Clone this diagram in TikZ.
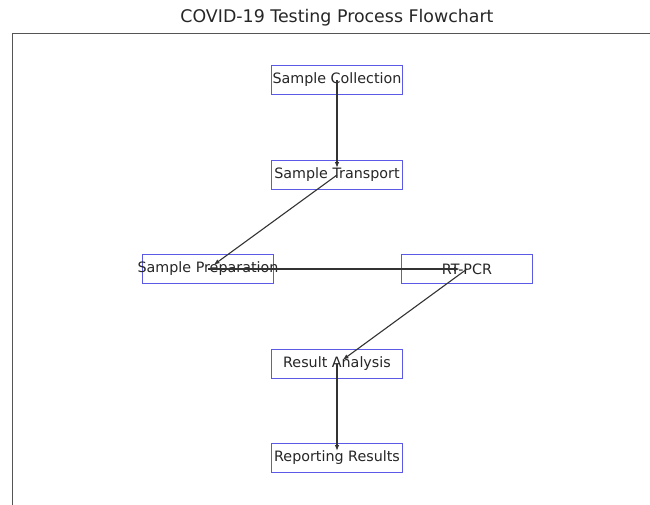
\documentclass[tikz,border=0pt]{standalone}
\usepackage{fontspec}
\setmainfont{DejaVu Sans}
\usetikzlibrary{arrows.meta}
\definecolor{clrBox}{HTML}{5A5AE6}
\definecolor{clrText}{HTML}{262626}
\definecolor{clrEdge}{HTML}{333333}
\definecolor{clrFrame}{HTML}{555555}
\tikzset{
  stage box/.style={rectangle, draw=clrBox, fill=white, line width=1.5pt, minimum width=131pt, minimum height=29pt, inner sep=0pt, font=\fontsize{14.3}{16}\selectfont, text=clrText,
    execute at begin node={\hbox to 0pt\bgroup\hss\lower1.5pt\hbox\bgroup}, execute at end node={\egroup\hss\egroup}},
  flow/.style={-{Latex[length=6pt, width=4.5pt]}, draw=clrEdge, line width=1.1pt, shorten >=7pt},
}

\begin{document}
\begin{tikzpicture}[x=1pt, y=-1pt]
  \useasboundingbox (0,0) rectangle (650,504);
  \clip (0,0) rectangle (650,504);

  % Frame and title
  \draw[clrFrame, line width=0.9pt] (12,33) rectangle (662,530);
  \node[font=\fontsize{17.4}{20}\selectfont, text=clrText] (title) at (337,18) {COVID-19 Testing Process Flowchart};

  % Stages
  \node[stage box] (collect) at (337,80) {Sample Collection};
  \node[stage box] (transport) at (337,175) {Sample Transport};
  \node[stage box] (prep) at (208,269) {Sample Preparation};
  \node[stage box] (pcr) at (467,269) {RT-PCR};
  \node[stage box] (analysis) at (337,364) {Result Analysis};
  \node[stage box] (report) at (337,458) {Reporting Results};

  % Flow
  \draw[flow] (collect.center) -- (transport.center);
  \draw[flow] (transport.center) -- (prep.center);
  \draw[flow] (prep.center) -- (pcr.center);
  \draw[flow] (pcr.center) -- (analysis.center);
  \draw[flow] (analysis.center) -- (report.center);
\end{tikzpicture}
\end{document}
